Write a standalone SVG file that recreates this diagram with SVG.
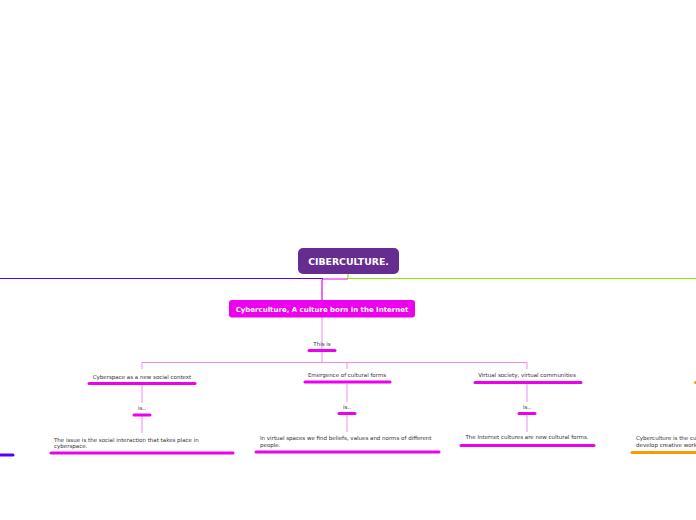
<svg xmlns="http://www.w3.org/2000/svg" width="696" height="520" viewBox="0 0 696 520">
<style>
.t{font-family:"DejaVu Sans",Verdana,sans-serif;font-size:5.5px;fill:#333}
.c{text-anchor:middle}
.ul{stroke:#ee00ee;stroke-width:3;stroke-linecap:round;fill:none}
.pk{stroke:#f08af0;stroke-width:1;fill:none}
.h{font-family:"DejaVu Sans",Verdana,sans-serif;font-weight:bold;fill:#fff;text-anchor:middle}
</style>
<rect width="696" height="520" fill="#fff"/>
<g id="connectors">
<path d="M348 274V278.5H696" stroke="#88ee00" stroke-width="1.2" fill="none"/>
<path d="M0 278.5H323" stroke="#5500ff" stroke-width="1.2" fill="none"/>
<path d="M348 279H324Q322 279 322 281V300" stroke="#ee00ee" stroke-width="1.2" fill="none"/>
<path class="pk" d="M322 317V349"/>
<path class="pk" d="M322 351V362.5M142 369V362.5H527V369M347 362.5V369"/>
<path class="pk" d="M142 385V403M142 416V433"/>
<path class="pk" d="M347 384V402M347 415V432"/>
<path class="pk" d="M527 384V402M527 415V432"/>
</g>
<g id="root">
<rect x="298" y="248" width="101" height="26" rx="5" fill="#662d91"/>
<text class="h" x="348.5" y="265" font-size="9.3">CIBERCULTURE.</text>
</g>
<g id="sub">
<rect x="229" y="300" width="186" height="17.5" rx="3" fill="#ee00ee"/>
<text class="h" x="322" y="311.5" font-size="7">Cyberculture, A culture born in the Internet</text>
</g>
<g id="thisis">
<text class="t c" x="322" y="345.5">This is</text>
<path class="ul" d="M309 350.5H335"/>
</g>
<g id="b1">
<text class="t c" x="142" y="379">Cyberspace as a new social context</text>
<path class="ul" d="M89 383.5H195"/>
</g>
<g id="b1is">
<text class="t c" x="142" y="410">is..</text>
<path class="ul" d="M134 415H150"/>
</g>
<g id="b1d">
<text class="t" x="54" y="441.5">The issue is the social interaction that takes place in</text>
<text class="t" x="54" y="447.5">cyberspace.</text>
<path class="ul" d="M51 453H233"/>
</g>
<g id="b2">
<text class="t c" x="347" y="377">Emergence of cultural forms</text>
<path class="ul" d="M305 382H390"/>
</g>
<g id="b2is">
<text class="t c" x="347" y="409">is..</text>
<path class="ul" d="M339 413.5H355"/>
</g>
<g id="b2d">
<text class="t" x="260" y="440">In virtual spaces we find beliefs, values and norms of different</text>
<text class="t" x="260" y="446.5">people.</text>
<path class="ul" d="M256 452H439"/>
</g>
<g id="b3">
<text class="t c" x="527" y="377">Virtual society, virtual communities</text>
<path class="ul" d="M475 382.5H581"/>
</g>
<g id="b3is">
<text class="t c" x="527" y="409">is..</text>
<path class="ul" d="M519 413.5H535"/>
</g>
<g id="b3d">
<text class="t c" x="527" y="439">The Internet cultures are new cultural forms.</text>
<path class="ul" d="M461 445.5H594"/>
</g>
<g id="orange">
<path d="M695.5 382.5H697" stroke="#ff9900" stroke-width="3" stroke-linecap="round"/>
<text class="t" x="636" y="440">Cyberculture is the cu</text>
<text class="t" x="636" y="446.5">develop creative work</text>
<path d="M632 452.5H700" stroke="#ff9900" stroke-width="3" stroke-linecap="round"/>
</g>
<g id="blue">
<path d="M-2 455H13" stroke="#5500ff" stroke-width="3" stroke-linecap="round"/>
</g>
</svg>
